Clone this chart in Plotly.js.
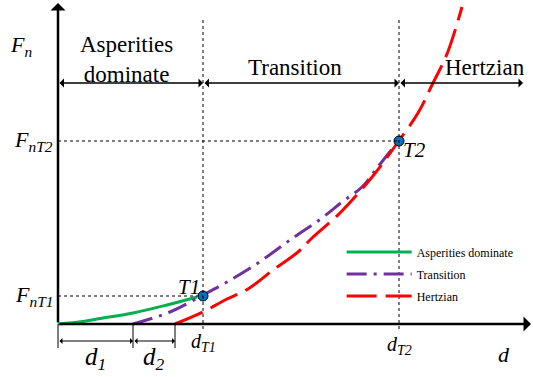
<!DOCTYPE html>
<html><head><meta charset="utf-8">
<script src="https://cdn.plot.ly/plotly-3.0.1.min.js"></script>
<style>html,body{margin:0;padding:0;background:#fff;}</style>
</head><body>
<div id="chart" style="width:533px;height:377px;"></div>
<script>
// Schematic values (arbitrary units: displacement d, normal force Fn)
var seriesNames = ['Asperities dominate', 'Transition', 'Hertzian'];
var greenD = [0, 2.5, 4.2, 7.5, 10.9, 13.9];
var greenF = [0, 0.25, 0.55, 1.1, 1.9, 2.7];
var transD = [7.5, 11.2, 14.5, 16.9, 20.0, 23.2, 26.4, 28.4, 30.4, 31.9, 33.5, 34.1];
var transF = [0, 1.2, 2.9, 4.2, 6.1, 8.4, 10.6, 12.2, 13.7, 15.6, 17.6, 18.3];
var hertzD = [11.7, 14.5, 16.7, 19.0, 21.5, 24.0, 25.4, 28.2, 31.0, 32.5, 34.0, 36.0, 37.5, 38.9, 40.4];
var hertzF = [0, 1.2, 2.4, 3.5, 5.4, 7.2, 8.6, 11.1, 14.2, 16.1, 18.2, 21.1, 24.1, 27.0, 31.7];
var dT = [14.5, 34.1];          // dT1, dT2
var FnT = [2.8, 18.3];          // FnT1, FnT2
var pointLabels = ['T1', 'T2'];
var dMarks = [0, 7.5, 11.7];    // 0, d1, d1+d2
var dMarkLabels = ['d<sub>1</sub>', 'd<sub>2</sub>'];
var regionLabels = ['Asperities<br>dominate', 'Transition', 'Hertzian'];
var axisEnd = {d: 47.3, F: 32.1, region: 46.5, top: 30.7};
var regionRowF = 24.1;
var bracketF = -1.7;

var serif = '"Liberation Serif", "Times New Roman", Times, serif';
var colors = ['#00B050', '#7030A0', '#FF0000'];

var traces = [
  {x: greenD, y: greenF, name: seriesNames[0], mode: 'lines', line: {color: colors[0], width: 3, shape: 'spline'}, legendgroup: 'a'},
  {x: transD, y: transF, name: seriesNames[1], mode: 'lines', line: {color: colors[1], width: 3, shape: 'spline', dash: '20px,7px,3px,7px'}, legendgroup: 'b'},
  {x: hertzD, y: hertzF, name: seriesNames[2], mode: 'lines', line: {color: colors[2], width: 3, shape: 'spline', dash: '30px,9px'}, legendgroup: 'c'},
  {x: dT, y: FnT, mode: 'markers', showlegend: false, marker: {color: '#0070C0', size: 10, line: {color: '#000', width: 1}}}
];

var shapes = [];
function dotted(x0, y0, x1, y1) {
  shapes.push({type: 'line', xref: 'x', yref: 'y', x0: x0, y0: y0, x1: x1, y1: y1, line: {color: '#000', width: 1, dash: 'dot'}});
}
for (var i = 0; i < dT.length; i++) {
  dotted(dT[i], -0.5, dT[i], axisEnd.top);
  dotted(0, FnT[i], dT[i], FnT[i]);
}
dMarks.forEach(function (m) {
  shapes.push({type: 'line', xref: 'x', yref: 'y', x0: m, y0: 0, x1: m, y1: -2.4, line: {color: '#000', width: 1}});
});

var ann = [];
function arrow(x0, y0, x1, y1, both, w) {
  ann.push({xref: 'x', yref: 'y', axref: 'x', ayref: 'y', x: x1, y: y1, ax: x0, ay: y0, text: '',
    showarrow: true, arrowhead: 1, arrowsize: 1, arrowwidth: w || 1.5, arrowcolor: '#000',
    arrowside: both ? 'end+start' : 'end', standoff: 0, startstandoff: 0});
}
arrow(0, 0, 0, axisEnd.F, false, 2.5);
arrow(0, 0, axisEnd.d, 0, false, 2.5);
var bounds = [0, dT[0], dT[1], axisEnd.region];
for (var j = 0; j < 3; j++) arrow(bounds[j], regionRowF, bounds[j + 1], regionRowF, true, 1.5);
arrow(dMarks[0], bracketF, dMarks[1], bracketF, true, 1);
arrow(dMarks[1], bracketF, dMarks[2], bracketF, true, 1);

function label(x, y, text, size, xanchor, italic) {
  ann.push({xref: 'x', yref: 'y', x: x, y: y, text: italic ? '<i>' + text + '</i>' : text, showarrow: false,
    xanchor: xanchor || 'center', yanchor: 'middle', font: {family: serif, size: size, color: '#000'}});
}
label(6.8, 26.5, regionLabels[0], 23);
label(23.7, 25.7, regionLabels[1], 23);
label(42.7, 25.7, regionLabels[2], 23);
label(-5.0, 27.8, 'F<sub>n</sub>', 22, 'left', true);
label(-0.3, FnT[1], 'F<sub>nT2</sub>', 22, 'right', true);
label(-0.3, FnT[0], 'F<sub>nT1</sub>', 22, 'right', true);
label(dT[0], -1.8, 'd<sub>T1</sub>', 20, 'center', true);
label(dT[1], -2.1, 'd<sub>T2</sub>', 20, 'center', true);
label(44.6, -3.0, 'd', 22, 'center', true);
label((dMarks[0] + dMarks[1]) / 2, -3.4, dMarkLabels[0], 25, 'center', true);
label((dMarks[1] + dMarks[2]) / 2, -3.4, dMarkLabels[1], 25, 'center', true);
label(dT[0] - 0.1, 3.7, pointLabels[0], 21, 'right', true);
label(dT[1] + 0.2, 17.4, pointLabels[1], 21, 'left', true);

var layout = {
  width: 533, height: 377, autosize: false,
  margin: {l: 0, r: 0, t: 0, b: 0},
  paper_bgcolor: '#fff', plot_bgcolor: '#fff',
  font: {family: serif},
  xaxis: {range: [-5.8, 47.5], visible: false, fixedrange: true},
  yaxis: {range: [-5.3, 32.4], visible: false, fixedrange: true},
  showlegend: true,
  legend: {x: 0.641, y: 0.37, xanchor: 'left', yanchor: 'top', bgcolor: 'rgba(0,0,0,0)',
    font: {family: serif, size: 12, color: '#000'}, itemwidth: 65, traceorder: 'grouped', tracegroupgap: 3},
  shapes: shapes,
  annotations: ann
};
Plotly.newPlot('chart', traces, layout, {displayModeBar: false, staticPlot: true});
</script>
</body></html>
